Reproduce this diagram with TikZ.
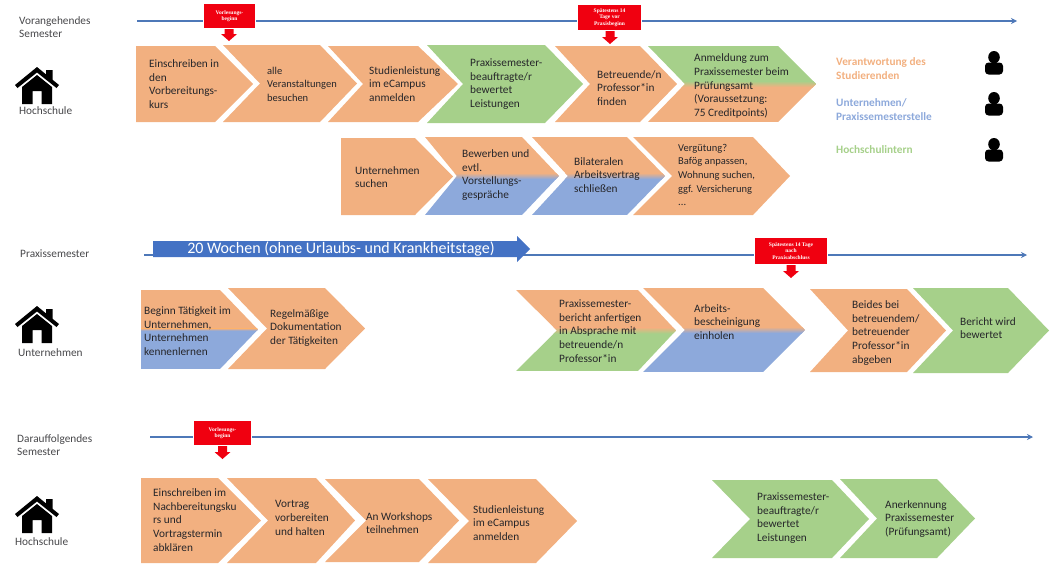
\documentclass[tikz,border=0pt]{standalone}
\usepackage{fontspec}
\setmainfont{Carlito}
\newfontfamily\redfont{Liberation Serif}
\usetikzlibrary{arrows.meta}
\definecolor{cO}{HTML}{F2B080}
\definecolor{cB}{HTML}{8DA9DB}
\definecolor{cG}{HTML}{A6D08A}
\definecolor{cL}{HTML}{4E78B8}
\definecolor{cR}{HTML}{F00010}
\definecolor{cT}{HTML}{26262A}
\definecolor{cA}{HTML}{4472C4}
\tikzset{
  lab/.style={anchor=west,align=left,inner sep=0pt,text=cT,font=\fontsize{11.3}{13.6}\selectfont},
  labsmall/.style={lab,font=\fontsize{10.5}{13.6}\selectfont},
  side/.style={anchor=west,align=left,inner sep=0pt,text=cT!85!white,font=\fontsize{11.3}{13.4}\selectfont},
  legend/.style={anchor=west,align=left,inner sep=0pt,font=\bfseries\fontsize{11.3}{14}\selectfont},
  timeline/.style={draw=cL,line width=1.5pt,-{Stealth[length=6pt,width=6pt]}},
  redbox/.style={fill=cR,draw=white,line width=1.2pt,inner sep=0pt,align=center,text=white,font=\redfont\bfseries\fontsize{5.5}{7.6}\selectfont},
}
% x0, notch x, shoulder x, tip x, y0, y1
\newcommand{\chevshape}[6]{(#1,#5) -- (#3,#5) -- (#4,{(#5+#6)/2}) -- (#3,#6) -- (#1,#6) -- (#2,{(#5+#6)/2}) -- cycle}
\newcommand{\chev}[7]{\fill[#7] \chevshape{#1}{#2}{#3}{#4}{#5}{#6};}
\def\bandh{3}
\newcommand{\chevsplit}[8]{%
  \begin{scope}
    \clip \chevshape{#1}{#2}{#3}{#4}{#5}{#6};
    \fill[#7] (#1,#5) rectangle (#4,{(#5+#6)/2});
    \fill[#8] (#1,{(#5+#6)/2}) rectangle (#4,#6);
    \shade[top color=#7,bottom color=#8] (#1,{(#5+#6)/2-\bandh}) rectangle (#4,{(#5+#6)/2+\bandh});
  \end{scope}}
% house: centre x, top y
\newcommand{\house}[3]{%
  \begin{scope}[shift={(#2,#3)}]
    \fill[black] (-22,18) -- (0,0) -- (9,7.4) -- (9,3) -- (15.5,3) -- (15.5,12.7) -- (22,18) -- (19.5,21) -- (0,5.5) -- (-19.5,21) -- cycle;
    \fill[black] (-15,20) -- (0,8) -- (15,20) -- (15,37) -- (4.5,37) -- (4.5,24) -- (-4.5,24) -- (-4.5,37) -- (-15,37) -- cycle;
  \end{scope}
  \coordinate (#1) at (#2,#3);}
% person: centre x, top y
\newcommand{\person}[3]{%
  \begin{scope}[shift={(#2,#3)}]
    \fill[black] (0,6.2) ellipse (5.8 and 6.2);
    \fill[black,rounded corners=3.5pt] (-9,23.5) -- (-9,11.5) -- (9,11.5) -- (9,23.5) -- cycle;
  \end{scope}
  \coordinate (#1) at (#2,#3);}
% red call-out arrow: x, from y, to y
\newcommand{\redarrow}[3]{\fill[cR] (#1-4.5,#2) -- (#1+4.5,#2) -- (#1+4.5,#3-7) -- (#1+8,#3-7) -- (#1,#3) -- (#1-8,#3-7) -- (#1-4.5,#3-7) -- cycle;}
\begin{document}
\begin{tikzpicture}[x=1pt,y=-1pt]
\useasboundingbox (0,0) rectangle (1060,584);
% timelines
\coordinate (t1a) at (137,21); \coordinate (t1b) at (1017,21);
\coordinate (t2a) at (144,255); \coordinate (t2b) at (1027,255);
\coordinate (t3a) at (150,437); \coordinate (t3b) at (1033,437);
\draw[timeline] (t1a) -- (t1b);
\draw[timeline] (t2a) -- (t2b);
\draw[timeline] (t3a) -- (t3b);
% red markers
\redarrow{229}{27}{41}
\node[redbox,minimum width=52pt,minimum height=25pt] (r1) at (229.5,16) {Vorlesungs-\\[-1pt]beginn};
\redarrow{610}{29}{44}
\node[redbox,minimum width=64pt,minimum height=26pt] (r2) at (609.5,17.5) {Spätestens 14\\[-1pt]Tage vor\\[-1pt]Praxisbeginn};
\redarrow{791}{263}{278}
\node[redbox,minimum width=73pt,minimum height=27pt] (r3) at (791,251) {Spätestens 14 Tage\\[-1pt]nach\\[-1pt]Praxisabschluss};
\redarrow{222.5}{444}{459}
\node[redbox,minimum width=58pt,minimum height=25pt] (r4) at (222.5,433) {Vorlesungs-\\[-1pt]beginn};
% thick blue arrow
\fill[cA] (153,241) -- (517,241) -- (517,236) -- (530,249) -- (517,262) -- (517,257) -- (153,257) -- cycle;
\node[inner sep=0pt,text=white,font=\fontsize{16}{18}\selectfont] (wochen) at (341,249) {20 Wochen (ohne Urlaubs- und Krankheitstage)};
% row 1
\chev{136}{136}{215}{253}{46}{122}{cO}
\chev{223}{260}{320}{357}{45}{122}{cO}
\chev{328}{363}{418}{458}{46}{122}{cO}
\chev{427}{463}{545}{583}{45}{123}{cG}
\chev{555}{590}{640}{677}{46}{122}{cO}
\chevsplit{648}{685}{778}{816}{46}{122}{cG}{cO}
\node[lab] (a1) at (149,84) {Einschreiben in\\den\\Vorbereitungs-\\kurs};
\node[labsmall] (a2) at (267,84) {alle\\Veranstaltungen\\besuchen};
\node[lab] (a3) at (369,84) {Studienleistung\\im eCampus\\anmelden};
\node[lab] (a4) at (470,84) {Praxissemester-\\beauftragte/r\\bewertet\\Leistungen};
\node[lab] (a5) at (597,88) {Betreuende/n\\Professor*in\\finden};
\node[lab] (a6) at (694,86) {Anmeldung zum\\Praxissemester beim\\Prüfungsamt\\(Voraussetzung:\\75 Creditpoints)};
% row 2
\chev{341}{341}{415}{453}{138}{215}{cO}
\chevsplit{425}{457}{522}{559}{137}{215}{cO}{cB}
\chevsplit{532}{568}{627}{665}{137}{215}{cO}{cB}
\chev{633}{672}{753}{790}{137}{215}{cO}
\node[lab] (b1) at (355,177) {Unternehmen\\suchen};
\node[lab] (b2) at (462,175) {Bewerben und\\evtl.\\Vorstellungs-\\gespräche};
\node[lab] (b3) at (574,175) {Bilateralen\\Arbeitsvertrag\\schließen};
\node[labsmall] (b4) at (678,175) {Vergütung?\\Bafög anpassen,\\Wohnung suchen,\\ggf. Versicherung\\...};
% row 3
\def\bandh{1}
\chevsplit{141}{141}{220}{258}{290}{369}{cO}{cB}
\def\bandh{3}
\chev{228}{267}{325}{365}{288}{369}{cO}
\chevsplit{516}{557}{638}{676}{290}{371}{cO}{cG}
\chevsplit{643}{685}{763}{805}{288}{372}{cO}{cB}
\chev{810}{848}{907}{946}{289}{372}{cO}
\chev{913}{953}{1008}{1049}{288}{373}{cG}
\node[lab] (c1) at (144,331) {Beginn Tätigkeit im\\Unternehmen,\\Unternehmen\\kennenlernen};
\node[lab] (c2) at (270,328) {Regelmäßige\\Dokumentation\\der Tätigkeiten};
\node[lab] (c3) at (559,331) {Praxissemester-\\bericht anfertigen\\in Absprache mit\\betreuende/n\\Professor*in};
\node[lab] (c4) at (694,322) {Arbeits-\\bescheinigung\\einholen};
\node[lab] (c5) at (852,333) {Beides bei\\betreuendem/\\betreuender\\Professor*in\\abgeben};
\node[lab] (c6) at (960,328) {Bericht wird\\bewertet};
% row 4
\chev{141}{141}{218}{261}{478}{563}{cO}
\chev{227}{268}{316}{355}{478}{563}{cO}
\chev{325}{366}{419}{459}{479}{562}{cO}
\chev{428}{469}{536}{577}{479}{563}{cO}
\chev{712}{750}{832}{869}{480}{558}{cG}
\chev{840}{877}{937}{975}{479}{558}{cG}
\node[lab] (d1) at (153,520) {Einschreiben im\\Nachbereitungsku\\rs und\\Vortragstermin\\abklären};
\node[lab] (d2) at (275,518) {Vortrag\\vorbereiten\\und halten};
\node[lab] (d3) at (366,523) {An Workshops\\teilnehmen};
\node[lab] (d4) at (473,523) {Studienleistung\\im eCampus\\anmelden};
\node[lab] (d5) at (757,518) {Praxissemester-\\beauftragte/r\\bewertet\\Leistungen};
\node[lab] (d6) at (885,519) {Anerkennung\\Praxissemester\\(Prüfungsamt)};
% side labels
\node[side] (s1) at (19,27) {Vorangehendes\\Semester};
\node[side] (s2) at (19,111) {Hochschule};
\node[side] (s3) at (20,254) {Praxissemester};
\node[side] (s4) at (18,353) {Unternehmen};
\node[side] (s5) at (17,445) {Darauffolgendes\\Semester};
\node[side] (s6) at (15,542) {Hochschule};
\house{h1}{37}{67}
\house{h2}{37}{306}
\house{h3}{37}{496}
% legend
\node[legend,text=cO] (l1) at (836,69) {Verantwortung des\\Studierenden};
\node[legend,text=cB] (l2) at (836,110) {Unternehmen/\\Praxissemesterstelle};
\node[legend,text=cG] (l3) at (836,150) {Hochschulintern};
\person{p1}{994}{51}
\person{p2}{994}{92}
\person{p3}{994}{138}
\end{tikzpicture}
\end{document}
